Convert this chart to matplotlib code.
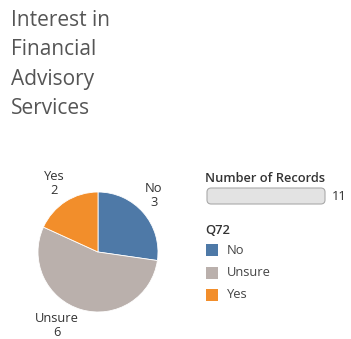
import matplotlib
matplotlib.use("Agg")
import matplotlib.pyplot as plt
from matplotlib.patches import FancyBboxPatch, Rectangle

# Survey responses to Q72
categories = ["No", "Unsure", "Yes"]
counts = [3, 6, 2]
colors = ["#4E79A7", "#BAB0AC", "#F28E2B"]
title_lines = ["Interest in", "Financial", "Advisory", "Services"]
total_records = sum(counts)

W, H = 351, 339
fig = plt.figure(figsize=(W / 100, H / 100), dpi=100)
fig.patch.set_facecolor("white")
plt.rcParams["font.family"] = ["Open Sans", "DejaVu Sans"]
FS = 9.3


def px(x, y):
    """Pixel position (from top-left) to figure fraction."""
    return x / W, 1 - y / H


# Title
for i, line in enumerate(title_lines):
    fig.text(*px(11, 20 + i * 29.5), line, fontsize=15, color="#555555",
             va="center", ha="left")

# Pie
cx, cy, r = 98, 252, 60
ax = fig.add_axes([(cx - r) / W, 1 - (cy + r) / H, 2 * r / W, 2 * r / H])
ax.pie(counts, colors=colors, startangle=90, counterclock=False,
       wedgeprops=dict(edgecolor="white", linewidth=0.6))
ax.set_aspect("auto")
ax.set_xlim(-1, 1)
ax.set_ylim(-1, 1)
ax.axis("off")

label_pos = {"No": (154, 195), "Yes": (54, 184), "Unsure": (57, 325)}
for cat, n in zip(categories, counts):
    x, y = label_pos[cat]
    fig.text(*px(x, y - 7), cat, fontsize=FS, color="#333333",
             ha="center", va="center")
    fig.text(*px(x, y + 7), str(n), fontsize=FS, color="#333333",
             ha="center", va="center")

# Size legend
fig.text(*px(205, 178), "Number of Records", fontsize=FS, color="#333333",
         ha="left", va="center", fontweight="semibold")
bx0, by0 = px(207, 204)
bar = FancyBboxPatch((bx0, by0), (325 - 207) / W, 16 / H,
                     boxstyle="round,pad=0,rounding_size=0.012",
                     transform=fig.transFigure, facecolor="#E3E3E3",
                     edgecolor="#AAAAAA", linewidth=0.8)
fig.patches.append(bar)
fig.text(*px(332, 197), str(total_records), fontsize=FS, color="#333333",
         ha="left", va="center")

# Colour legend
fig.text(*px(205, 231), "Q72", fontsize=FS, color="#333333",
         ha="left", va="center", fontweight="semibold")
for i, (cat, c) in enumerate(zip(categories, colors)):
    y = 250 + i * 22.5
    sx, sy = px(206, y + 6)
    fig.patches.append(Rectangle((sx, sy), 12 / W, 12 / H,
                                 transform=fig.transFigure, facecolor=c,
                                 edgecolor="none"))
    fig.text(*px(227, y), cat, fontsize=FS, color="#444444",
             ha="left", va="center")

fig.savefig("out.png", dpi=100)
